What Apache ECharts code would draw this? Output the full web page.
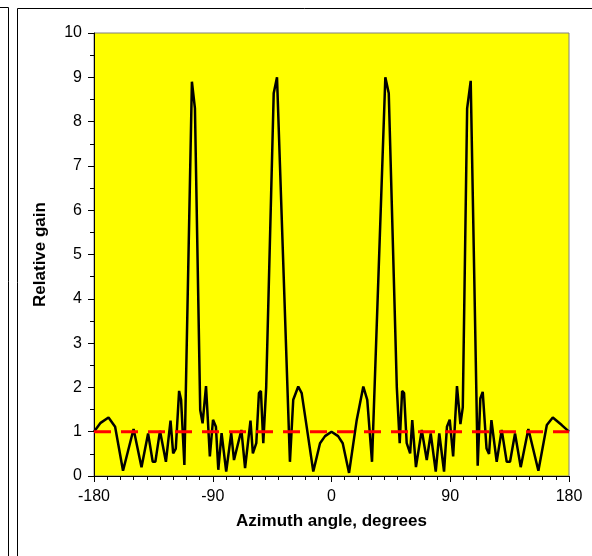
<!DOCTYPE html>
<html style="height: 100%">
<head>
<meta charset="utf-8">
</head>
<body style="height: 100%; margin: 0; background: #fff">
<div id="container" style="width: 592px; height: 556px;"></div>
<script type="text/javascript" src="https://cdn.jsdelivr.net/npm/echarts/dist/echarts.min.js"></script>
<script type="text/javascript">
// azimuth angle (deg) and relative gain
var angles = [-180, -175, -169, -164, -158, -150, -144, -139, -135.5, -133.5, -130, -125.5, -122, -120, -118,
  -115.5, -114, -111.5, -105.8, -103.5, -99.5, -97.7, -95.1, -92.2, -89.8, -87.6, -85.8, -83.3, -79.8, -76,
  -73.9, -68.3, -65.5, -61.4, -59.6, -57, -55, -53.5, -51.7, -49.5, -43.8, -41.3, -31.5, -29, -25.2,
  -22.6, -18.8, -13.8, -8.7, -4.9, 0, 5, 8.5, 13.3, 19.1, 24.1, 27.1, 30.7, 40.8, 43.4,
  49.5, 51.7, 53.5, 55, 57, 59.6, 61.2, 64, 68.4, 72.2, 75.2, 79, 81.7, 85.3, 87.5,
  89.6, 92.2, 95.1, 97.7, 99.5, 102.8, 105.5, 110.8, 112.8, 114.6, 117.5, 119.4, 121.2, 125.2, 129,
  132.8, 135.3, 139.1, 143.4, 149.2, 156.8, 163.2, 167.7, 174.5, 180];
var gain = [1.0, 1.2, 1.32, 1.11, 0.12, 1.06, 0.2, 0.96, 0.32, 0.32, 1.02, 0.32, 1.25, 0.51, 0.62,
  1.92, 1.72, 0.25, 8.9, 8.3, 1.49, 1.19, 2.03, 0.44, 1.27, 1.11, 0.14, 0.97, 0.1, 0.97,
  0.36, 1.04, 0.18, 1.25, 0.51, 0.74, 1.87, 1.92, 0.74, 2.0, 8.64, 9.0, 0.32, 1.72, 2.02,
  1.87, 1.11, 0.1, 0.74, 0.9, 1.0, 0.9, 0.74, 0.07, 1.26, 2.02, 1.72, 0.32, 9.0, 8.64,
  2.0, 0.74, 1.92, 1.87, 0.74, 0.51, 1.26, 0.2, 1.04, 0.36, 0.96, 0.1, 0.96, 0.1, 1.11,
  1.27, 0.44, 2.03, 1.17, 1.55, 8.3, 8.92, 0.23, 1.75, 1.9, 0.62, 0.5, 1.26, 0.32, 1.04,
  0.32, 0.32, 0.96, 0.2, 1.06, 0.12, 1.15, 1.32, 1.15, 1.0];
// reference level
var refAngles = [-180, 180];
var refGain = [1, 1];

var dom = document.getElementById("container");
var myChart = echarts.init(dom);

var pattern = angles.map(function (a, i) { return [a, gain[i]]; });
var ref = refAngles.map(function (a, i) { return [a, refGain[i]]; });

var font = "'Liberation Sans', Arial, sans-serif";

var option = {
    animation: false,
    backgroundColor: '#fff',
    graphic: [
        { type: 'polyline', shape: { points: [[0, 7.5], [8.5, 7.5], [8.5, 556]] }, style: { stroke: '#000', fill: null, lineWidth: 1 } },
        { type: 'polyline', shape: { points: [[17.5, 556], [17.5, 8.5], [592, 8.5]] }, style: { stroke: '#000', fill: null, lineWidth: 1 } }
    ],
    grid: {
        left: 94, top: 33, right: 23, bottom: 80,
        show: true,
        backgroundColor: '#ffff00',
        borderColor: '#808080',
        borderWidth: 1
    },
    xAxis: {
        type: 'value',
        min: -180, max: 180, interval: 90,
        name: 'Azimuth angle, degrees',
        nameLocation: 'middle',
        nameGap: 37,
        nameTextStyle: { fontFamily: font, fontSize: 17, fontWeight: 'bold', color: '#000' },
        axisLine: { onZero: false, lineStyle: { color: '#000', width: 1 } },
        axisTick: { length: 6, lineStyle: { color: '#000' } },
        minorTick: { show: true, splitNumber: 9, length: 4, lineStyle: { color: '#000' } },
        axisLabel: { fontFamily: font, fontSize: 16, color: '#000', margin: 13 },
        splitLine: { show: false }
    },
    yAxis: {
        type: 'value',
        min: 0, max: 10, interval: 1,
        name: 'Relative gain',
        nameLocation: 'middle',
        nameGap: 45,
        nameTextStyle: { fontFamily: font, fontSize: 17, fontWeight: 'bold', color: '#000' },
        axisLine: { show: true, onZero: false, lineStyle: { color: '#000', width: 1 } },
        axisTick: { show: true, length: 6, lineStyle: { color: '#000' } },
        minorTick: { show: true, splitNumber: 2, length: 4, lineStyle: { color: '#000' } },
        axisLabel: { fontFamily: font, fontSize: 16, color: '#000', margin: 12 },
        splitLine: { show: false }
    },
    series: [
        {
            type: 'line',
            data: pattern,
            showSymbol: false,
            lineStyle: { color: '#000', width: 2.5 },
            z: 3
        },
        {
            type: 'line',
            data: ref,
            showSymbol: false,
            lineStyle: { color: '#ff0000', width: 3, type: [17, 10] },
            z: 4
        }
    ]
};

myChart.setOption(option);
</script>
</body>
</html>
